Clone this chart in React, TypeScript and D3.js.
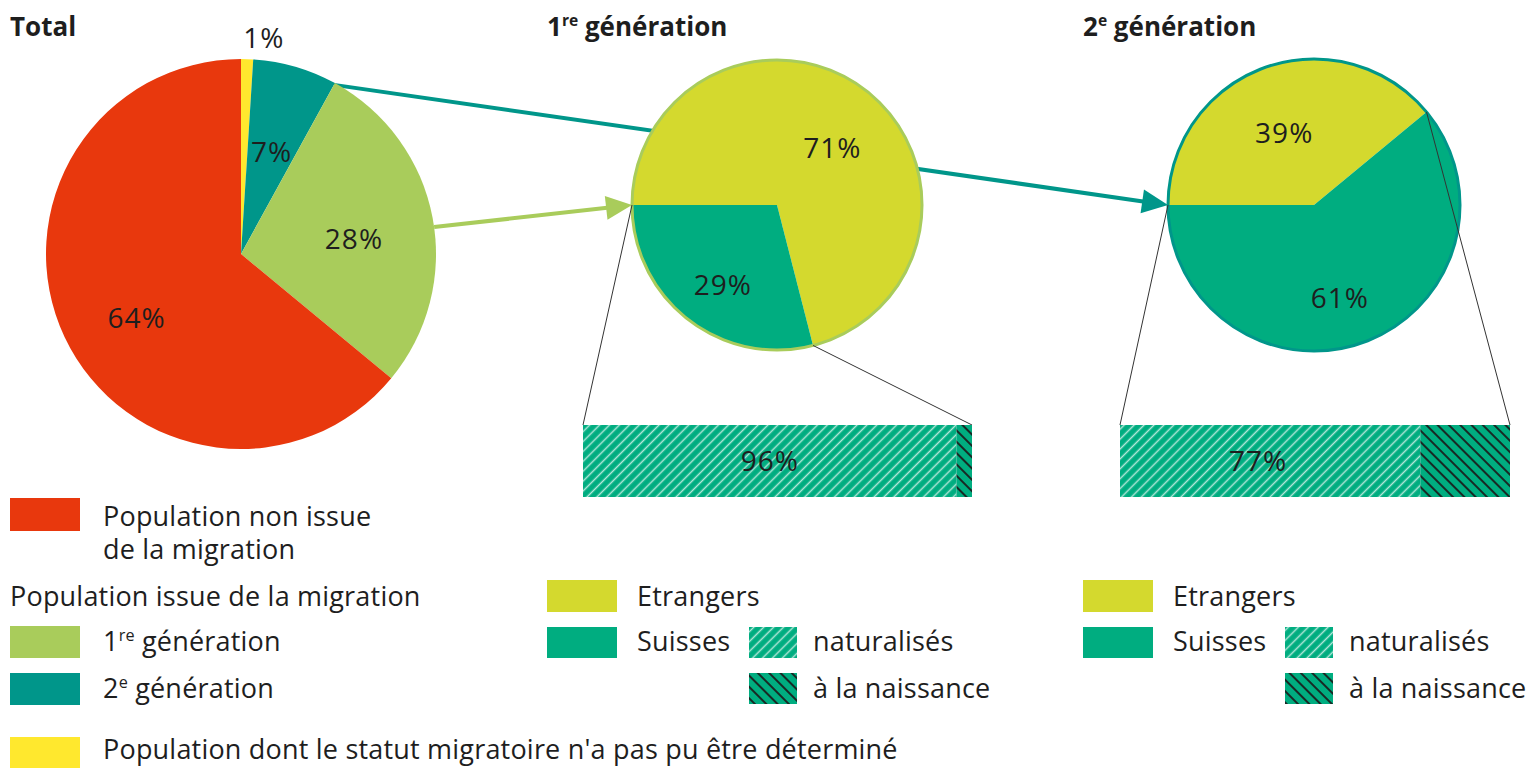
import React from 'react';
import * as d3 from 'd3';

// Total population
const totalCategories = ['Indéterminé', '2e génération', '1re génération', 'Non issue de la migration'];
const totalValues = [1, 7, 28, 64];
const totalColors = ['#ffe82e', '#00968a', '#a9cc5b', '#e8380d'];

// 1re / 2e génération: Etrangers / Suisses
const statusCategories = ['Etrangers', 'Suisses'];
const gen1Values = [71, 29];
const gen2Values = [39, 61];
const statusColors = ['#d4d92e', '#00ad80'];

// Suisses: naturalisés / à la naissance
const suisseCategories = ['naturalisés', 'à la naissance'];
const gen1Suisses = [96, 4];
const gen2Suisses = [77, 23];

const W = 1528;
const H = 768;
const FONT = '"Open Sans", "DejaVu Sans", sans-serif';
const TXT = '#1e1e1e';
const FS = 27;
const PCT = 28;

const arrowHead = (x1: number, y1: number, x2: number, y2: number, len: number, half: number) => {
  const a = Math.atan2(y2 - y1, x2 - x1);
  const bx = x2 - len * Math.cos(a);
  const by = y2 - len * Math.sin(a);
  const px = -Math.sin(a) * half;
  const py = Math.cos(a) * half;
  return `M${x2},${y2}L${bx + px},${by + py}L${bx - px},${by - py}Z`;
};

const Sup: React.FC<{ base: string; sup: string; rest: string; size: number }> = ({ base, sup, rest, size }) => (
  <>
    <tspan>{base}</tspan>
    <tspan fontSize={size * 0.6} dy={-size * 0.38}>{sup}</tspan>
    <tspan dy={size * 0.38}>{rest}</tspan>
  </>
);

type Center = { x: number; y: number; r: number };

const App: React.FC = () => {
  const pie = d3.pie<number>().sort(null);

  // Total pie
  const tc: Center = { x: 241, y: 254, r: 195 };
  const totalArcs = pie.startAngle(0).endAngle(2 * Math.PI)(totalValues);
  const totalArc = d3.arc<d3.PieArcDatum<number>>().innerRadius(0).outerRadius(tc.r);
  const totalLabelR = [218, 110, 116, 122];
  const totalNudge = [[16, 2], [0, 4], [-1, 7], [6, 12]];

  // Sub pies
  const p1: Center = { x: 777, y: 205, r: 145 };
  const p2: Center = { x: 1314, y: 205, r: 146 };
  const subPie = d3.pie<number>().sort(null).startAngle(-Math.PI / 2).endAngle(1.5 * Math.PI);
  const g1Arcs = subPie(gen1Values);
  const g2Arcs = subPie(gen2Values);

  // Bars
  const barY = 425;
  const barH = 72;
  const bar1 = d3.scaleLinear().domain([0, 100]).range([583, 972]);
  const bar2 = d3.scaleLinear().domain([0, 100]).range([1120, 1510]);

  const pt = (c: { x: number; y: number }, ang: number, r: number) => [c.x + r * Math.sin(ang), c.y - r * Math.cos(ang)];

  // arrow geometry from slice edges
  const tealEdge = pt(tc, totalArcs[1].endAngle, tc.r - 2);
  const greenStartAng = (totalArcs[2].startAngle + totalArcs[2].endAngle) / 2 + 0.05;
  const greenStart = pt(tc, greenStartAng, tc.r);
  const p1Left = [p1.x - p1.r, p1.y];
  const p2Left = [p2.x - p2.r, p2.y];

  const pieLabels = (arcs: d3.PieArcDatum<number>[], c: Center, radius: number, nudge: number[][]) =>
    arcs.map((a, i) => {
      const m = (a.startAngle + a.endAngle) / 2;
      const [x, y] = pt(c, m, radius);
      return (
        <text key={i} x={x + nudge[i][0]} y={y + nudge[i][1]} dy="0.36em" textAnchor="middle" fontSize={PCT} letterSpacing={1} fill={TXT}>
          {a.data}%
        </text>
      );
    });

  const Bar = ({ scale, values, shift }: { scale: d3.ScaleLinear<number, number>; values: number[]; shift: number }) => (
    <g>
      <rect x={scale(0)} y={barY} width={scale(values[0]) - scale(0)} height={barH} fill="url(#hatchLight)" />
      <rect x={scale(values[0])} y={barY} width={scale(100) - scale(values[0])} height={barH} fill="url(#hatchDark)" />
      <text
        x={(scale(0) + scale(values[0])) / 2 + shift}
        y={barY + barH / 2}
        dy="0.36em"
        textAnchor="middle"
        fontSize={PCT}
        letterSpacing={1}
        fill={TXT}
      >
        {values[0]}%
      </text>
    </g>
  );

  const StatusLegend = ({ x0 }: { x0: number }) => (
    <g fontSize={FS} letterSpacing={0.2} fill={TXT}>
      <rect x={x0} y={580} width={70} height={32} fill={statusColors[0]} />
      <text x={x0 + 90} y={606}>{statusCategories[0]}</text>
      <rect x={x0} y={627} width={70} height={31} fill={statusColors[1]} />
      <text x={x0 + 90} y={651}>{statusCategories[1]}</text>
      <rect x={x0 + 202} y={627} width={48} height={31} fill="url(#hatchLight)" />
      <text x={x0 + 266} y={651}>{suisseCategories[0]}</text>
      <rect x={x0 + 202} y={673} width={48} height={31} fill="url(#hatchDark)" />
      <text x={x0 + 266} y={698}>{suisseCategories[1]}</text>
    </g>
  );

  const g1Split = pt(p1, g1Arcs[0].endAngle, p1.r);
  const g2Split = pt(p2, g2Arcs[0].endAngle, p2.r);

  return (
    <svg width={W} height={H} style={{ position: 'absolute', left: 0, top: 0, display: 'block' }} fontFamily={FONT}>
      <defs>
        <pattern id="hatchLight" patternUnits="userSpaceOnUse" width={7} height={7} patternTransform="rotate(45)">
          <rect width={7} height={7} fill="#00ad80" />
          <line x1={3.5} y1={0} x2={3.5} y2={7} stroke="#ffffff" strokeOpacity={0.7} strokeWidth={1.5} />
        </pattern>
        <pattern id="hatchDark" patternUnits="userSpaceOnUse" width={8} height={8} patternTransform="rotate(-45)">
          <rect width={8} height={8} fill="#00ad80" />
          <line x1={4} y1={0} x2={4} y2={8} stroke="#1a1a1a" strokeWidth={1.8} />
        </pattern>
      </defs>
      <rect width={W} height={H} fill="#ffffff" />

      {/* Titles */}
      <g fontSize={26} fontWeight="bold" fill={TXT}>
        <text x={10} y={36}>Total</text>
        <text x={547} y={36}><Sup base="1" sup="re" rest=" génération" size={26} /></text>
        <text x={1083} y={36}><Sup base="2" sup="e" rest=" génération" size={26} /></text>
      </g>

      {/* Teal arrow (behind pie 1) */}
      <line x1={tealEdge[0]} y1={tealEdge[1]} x2={p2Left[0] - 18} y2={p2Left[1] - 18 * (p2Left[1] - tealEdge[1]) / (p2Left[0] - tealEdge[0])} stroke="#00968a" strokeWidth={4} />
      <path d={arrowHead(tealEdge[0], tealEdge[1], p2Left[0], p2Left[1], 26, 12)} fill="#00968a" />

      {/* Light green arrow */}
      <line x1={greenStart[0]} y1={greenStart[1]} x2={p1Left[0] - 18} y2={p1Left[1] + 18 * (greenStart[1] - p1Left[1]) / (p1Left[0] - greenStart[0])} stroke="#a9cc5b" strokeWidth={4} />
      <path d={arrowHead(greenStart[0], greenStart[1], p1Left[0], p1Left[1], 26, 12)} fill="#a9cc5b" />

      {/* Total pie */}
      <g transform={`translate(${tc.x},${tc.y})`}>
        {totalArcs.map((a, i) => (
          <path key={i} d={totalArc(a) || ''} fill={totalColors[i]} />
        ))}
      </g>
      {totalArcs.map((a, i) => {
        const m = (a.startAngle + a.endAngle) / 2;
        const [x, y] = pt(tc, m, totalLabelR[i]);
        return (
          <text key={i} x={x + totalNudge[i][0]} y={y + totalNudge[i][1]} dy="0.36em" textAnchor="middle" fontSize={PCT} letterSpacing={1} fill={TXT}>
            {a.data}%
          </text>
        );
      })}

      {/* Pie 1 */}
      <g transform={`translate(${p1.x},${p1.y})`}>
        {g1Arcs.map((a, i) => (
          <path key={i} d={d3.arc<d3.PieArcDatum<number>>().innerRadius(0).outerRadius(p1.r)(a) || ''} fill={statusColors[i]} />
        ))}
        <circle r={p1.r} fill="none" stroke="#a9cc5b" strokeWidth={3} />
      </g>
      {pieLabels(g1Arcs, p1, 82, [[5, 8], [-4, 15]])}

      {/* Pie 2 */}
      <g transform={`translate(${p2.x},${p2.y})`}>
        {g2Arcs.map((a, i) => (
          <path key={i} d={d3.arc<d3.PieArcDatum<number>>().innerRadius(0).outerRadius(p2.r)(a) || ''} fill={statusColors[i]} />
        ))}
        <circle r={p2.r} fill="none" stroke="#00968a" strokeWidth={3} />
      </g>
      {pieLabels(g2Arcs, p2, 88, [[0, 11], [-4, 10]])}

      {/* Zoom lines */}
      <g stroke="#333" strokeWidth={1}>
        <line x1={p1Left[0]} y1={p1Left[1]} x2={bar1(0)} y2={barY} />
        <line x1={g1Split[0]} y1={g1Split[1]} x2={bar1(100)} y2={barY} />
        <line x1={p2Left[0]} y1={p2Left[1]} x2={bar2(0)} y2={barY} />
        <line x1={g2Split[0]} y1={g2Split[1]} x2={bar2(100)} y2={barY} />
      </g>

      <Bar scale={bar1} values={gen1Suisses} shift={0} />
      <Bar scale={bar2} values={gen2Suisses} shift={-12} />

      {/* Left legend */}
      <g fontSize={FS} letterSpacing={0.2} fill={TXT}>
        <rect x={10} y={498} width={70} height={33} fill={totalColors[3]} />
        <text x={103} y={526}>Population non issue</text>
        <text x={103} y={559}>de la migration</text>
        <text x={10} y={606}>Population issue de la migration</text>
        <rect x={10} y={626} width={70} height={32} fill={totalColors[2]} />
        <text x={103} y={651}><Sup base="1" sup="re" rest=" génération" size={FS} /></text>
        <rect x={10} y={673} width={70} height={32} fill={totalColors[1]} />
        <text x={103} y={698}><Sup base="2" sup="e" rest=" génération" size={FS} /></text>
        <rect x={10} y={737} width={70} height={32} fill={totalColors[0]} />
        <text x={103} y={759}>Population dont le statut migratoire n'a pas pu être déterminé</text>
      </g>

      <StatusLegend x0={547} />
      <StatusLegend x0={1083} />
    </svg>
  );
};

export default App;
